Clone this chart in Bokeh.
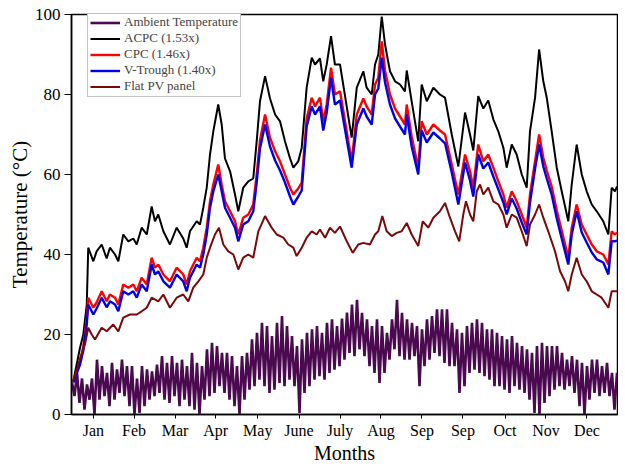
import numpy as np
from bokeh.plotting import figure
from bokeh.models import FixedTicker, Legend, LegendItem, Range1d, Title
from bokeh.embed import file_html
from bokeh.resources import INLINE

# ---- x axis (day of year) ----
month_ticks = [14.6, 41.8, 69.2, 96.4, 124.5, 152.1, 179.5, 206.9, 234.3, 261.7, 289.8, 317.2, 344.6]
month_labels = ["Jan", "Feb", "Mar", "Apr", "May", "June", "July", "Aug", "Sep", "Sep", "Oct", "Nov", "Dec"]

# ---- concentrator series (shared sampling days) ----
conc_day = [1.2, 5.7, 7.9, 10.2, 11.2, 14.6, 16.8, 20.2, 23.5, 25.7,
            29.1, 31.3, 34.6, 38.0, 41.3, 43.6, 46.9, 50.3, 53.6, 55.8,
            58.0, 61.4, 65.8, 70.3, 74.7, 77.0, 79.2, 83.7, 85.9, 88.1,
            90.4, 92.6, 94.8, 98.1, 100.4, 102.6, 106.0, 109.3, 111.5, 114.8,
            118.2, 121.5, 123.8, 126.0, 129.4, 132.7, 136.1, 139.4, 142.7, 146.1,
            148.3, 151.6, 153.9, 157.2, 160.6, 162.8, 166.1, 168.3, 170.6, 173.5,
            176.1, 179.5, 187.3, 190.7, 195.1, 197.3, 200.7, 202.9, 205.1, 207.4,
            209.6, 212.9, 216.3, 219.6, 222.9, 224.1, 227.4, 231.8, 234.1, 237.5,
            241.9, 246.3, 249.7, 254.2, 258.6, 263.1, 266.4, 268.6, 271.9, 275.3,
            278.6, 282.0, 285.3, 288.7, 290.9, 294.3, 297.6, 301.0, 304.3, 306.5,
            309.9, 312.6, 315.4, 317.7, 321.0, 324.4, 327.7, 332.1, 334.4, 337.7,
            341.1, 344.4, 347.8, 351.1, 355.5, 358.9, 361.1, 363.3, 364.7]

acpc = [8.3, 16.7, 20, 27.5, 41.7, 38.3, 40.8, 42.5, 39, 41.7,
        40, 38.3, 45, 43.3, 44, 42.5, 46.7, 45, 52, 48.3,
        50, 45.8, 42.5, 46.7, 44, 41.7, 45.8, 48.3, 47.5, 51.7,
        56.7, 65, 70.8, 77.5, 72.5, 64, 60.8, 55, 50.8, 56.7,
        58.3, 59, 68.3, 78.3, 84.6, 79, 75, 73.3, 68.3, 64,
        61.7, 63.3, 66.7, 81.7, 89.2, 87.5, 89, 83.3, 87.5, 94.6,
        87.5, 87.5, 69.2, 81.7, 85.8, 81.7, 80, 87.5, 90, 99.5,
        92.5, 85.8, 83.3, 82.5, 80.8, 86, 78.3, 68.3, 82.5, 78.3,
        81.7, 80, 79.2, 70, 62, 75.5, 70, 66, 79.6, 76.5,
        78.5, 73.8, 70.8, 66.7, 61.7, 67.5, 65, 60, 56.7, 70.8,
        79.2, 91.25, 83.3, 79.2, 70.8, 61.7, 55.8, 48.3, 57.5, 67.5,
        60, 55.8, 52.5, 50.8, 48.3, 45, 56.7, 55.8, 57]

cpc = [8.3, 13.3, 17, 24, 29.2, 26.7, 28, 30.8, 28.3, 30,
       29.2, 27.5, 32.5, 31.7, 32.5, 30.8, 34.2, 32.5, 39.2, 36.7,
       37.5, 35, 33.3, 36.7, 35, 32.5, 35.8, 39.2, 38.3, 41.7,
       46.7, 53.3, 57.5, 62.5, 57.5, 53.3, 50.8, 48.3, 45, 49.2,
       50, 52.5, 60, 68.5, 75, 69.2, 65.8, 63.3, 60, 56.7,
       55, 56.5, 58, 74, 79.2, 77, 79.2, 73.3, 77.5, 86.7,
       80, 80.8, 63.3, 75, 79, 77, 75, 82.5, 84.2, 93.3,
       86, 80, 76.5, 74.5, 72.5, 77.5, 69.5, 61.7, 73.3, 70,
       72.5, 71, 70, 62.5, 55, 65, 60.8, 56.7, 67.5, 63.3,
       65, 61.7, 58.3, 55, 51.7, 55.8, 53.3, 50, 46.7, 55,
       63.3, 70, 64.2, 61, 57, 51, 46, 39.2, 46.7, 52.5,
       47.5, 45, 42.5, 40.8, 40, 37.5, 45.8, 45, 45.5]

vtrough = [8.0, 12.5, 16, 22.5, 27.5, 25, 26.5, 29.2, 26.8, 28.3,
           27.5, 25.8, 30.8, 30, 30.8, 29.2, 32.5, 30.8, 37.5, 35,
           35.8, 33.3, 31.7, 35, 33.3, 30.8, 34.2, 37.5, 36.7, 40,
           45, 51.7, 55.8, 60, 55.8, 51.7, 49.2, 46.7, 43.3, 47.5,
           48.3, 50.8, 58, 66.5, 72.5, 67, 63.5, 61, 58, 54.5,
           52.5, 54.5, 56, 72, 77, 75, 77, 71, 75.5, 84.2,
           77.5, 78.5, 61.7, 72.5, 76.5, 74.5, 72.5, 80, 81.5, 89.2,
           83, 77.5, 74, 72, 70, 75, 67, 60, 71, 68,
           70.5, 69, 67.8, 60.5, 52.5, 63, 58.5, 54.5, 65, 61.5,
           63, 59.5, 56.3, 53, 50, 54, 51.5, 48, 45, 53,
           61.5, 67.5, 62, 59, 55, 49, 44, 37.5, 45, 50.8,
           45.5, 43, 40.5, 38.8, 38, 35, 43.3, 43.3, 43.5]

# ---- flat PV panel ----
flat_day = [1.2, 5.7, 9.0, 11.2, 13.5, 15.7, 20.2, 23.5, 27.9, 31.3,
            34.6, 39.1, 43.6, 46.9, 50.3, 53.6, 58.0, 61.4, 65.8, 70.3,
            74.7, 78.1, 81.4, 84.8, 88.1, 90.4, 92.6, 95.9, 98.6, 101.5,
            104.8, 108.2, 111.5, 114.8, 118.2, 121.5, 124.9, 129.4, 133.8, 137.2,
            141.6, 144.9, 148.3, 150.5, 153.9, 157.2, 160.6, 163.9, 166.1, 169.5,
            172.8, 176.1, 179.5, 184.0, 188.0, 191.7, 195.1, 199.5, 202.9, 205.1,
            207.8, 210.7, 214.1, 217.4, 220.7, 224.1, 227.4, 231.8, 234.8, 238.5,
            241.9, 246.3, 249.7, 253.0, 256.4, 259.2, 261.9, 263.7, 266.4, 268.6,
            270.9, 273.1, 275.3, 278.6, 282.0, 285.3, 288.7, 290.9, 294.3, 297.6,
            301.0, 304.3, 306.5, 309.9, 312.6, 315.4, 318.7, 323.2, 326.6, 329.9,
            332.1, 334.4, 337.7, 341.1, 344.4, 347.8, 351.1, 354.4, 358.9, 361.1,
            364.7]

flat_pv = [8.3, 14, 17.5, 21.7, 20, 18.75, 21.7, 20.8, 22.5, 20.8,
           24.2, 25, 25, 25.8, 26.7, 29.2, 28.3, 30, 26.7, 29.2,
           30, 28.3, 31.7, 33.3, 35, 39.2, 41.7, 45, 46.7, 42.5,
           40.8, 40, 36.25, 39.2, 40, 39.2, 45.8, 49.6, 46.7, 45,
           44.2, 42.5, 41.7, 39.6, 41.7, 44.2, 45.8, 45, 46.25, 44.2,
           46.7, 45.4, 47, 43.3, 40.4, 42.5, 42.9, 42.5, 45, 45.8,
           49.6, 45.8, 44.6, 45.4, 45.8, 47.9, 45, 42.1, 48.3, 46.7,
           49.2, 50.8, 52.9, 49.2, 45.8, 43.3, 50, 53.3, 50, 48.3,
           55.8, 57.5, 55, 56.7, 53.3, 52.5, 50, 46.7, 50, 49.2,
           45.8, 42.1, 47.5, 50, 52.5, 49.2, 45.8, 40.8, 35.8, 33.3,
           30.8, 35, 39.2, 35, 33.3, 30.8, 30, 29.2, 26.7, 30.8,
           30.8]

# ---- ambient temperature: daily highs / lows ----
amb_high = [8, 10.4, 9, 7.5, 9, 13.7, 12.1, 10.4, 12.9, 11.3,
            13.7, 12.1, 12.1, 9, 12.1, 11.3, 10.8, 12.5, 14.6, 12.9,
            14.6, 12.9, 13.7, 12.1, 15.4, 12.9, 12.1, 16.3, 17.9, 17.1,
            15.4, 15.4, 14.6, 12.1, 14.6, 15.4, 18.8, 20.4, 22.9, 22.1,
            19.6, 22.9, 24.6, 22.1, 19.6, 17.1, 18.8, 20.4, 21.3, 22.1,
            20.4, 22.9, 23.8, 22.1,
            24, 25.5, 27.5, 28.7, 25.4, 23.8, 22.1, 23.8, 22.1, 20.4,
            23.8, 28.7, 25.4, 23.8, 22.9, 22.1, 21.3, 23.8, 24.6, 26.3,
            26.3, 26.3, 22.9, 21.3, 20.4, 22.1, 22.9, 23.8, 22.9, 21.3,
            21.3, 20.4, 19.6, 18.8, 19.6, 17.9, 17.1, 16.3, 15.4, 17.1,
            17.9, 17.1, 17.1, 17.1, 15.4, 13.7, 14.6, 13.7, 12.9, 12.1,
            13.7, 13.7, 12.1, 12.9, 10.4, 10.4]

amb_low = [4.6, 2.9, 1.2, 3.7, 0, 3.7, 4.6, 2.1, 3.7, 5.4,
           4.6, 2.1, 0, 0.4, 2.1, 3.7, 4.6, 5.4, 3.7, 2.9,
           4.6, 2.1, 3.7, 2.1, 1.2, 0, 3.7, 4.6, 5.4, 7.1,
           5.4, 3.7, 2.1, 0, 3.7, 6.2, 7.1, 8.7, 7.1, 5.4,
           6.2, 7.9, 7.1, 8.7, 7.1, 0.4, 5.4, 7.1, 8.7, 9.6,
           8.7, 10.4, 11.2, 12.1,
           13.7, 15.4, 14.6, 16.3, 14.6, 12.1, 10.4, 7.9, 10.4, 13.7,
           16.3, 14.6, 13.7, 13.7, 14.6, 7.1, 12.1, 13.7, 15.4, 14.6,
           12.9, 12.1, 12.1, 5.4, 7.1, 10.4, 11.2, 10.4, 9.6, 8.7,
           7.1, 7.1, 6.2, 5.4, 7.1, 6.2, 5.4, 3.7, 0.4, 0,
           2.9, 4.6, 6.2, 7.1, 6.2, 7.1, 5.4, 2.1, 0, 3.7,
           5.4, 4.6, 5.4, 4.6, 1.2]

# time stamps of the alternating high/low samples (regular sampling in days)
step = 365.0 / 109.2
amb_x, amb_y = [], []
for i in range(max(len(amb_high), len(amb_low))):
    if i < len(amb_high):
        amb_x.append(0.33 + step * i)
        amb_y.append(amb_high[i])
    if i < len(amb_low):
        amb_x.append(0.33 + step * (i + 0.5))
        amb_y.append(amb_low[i])

SERIF = "Liberation Serif"

p = figure(frame_width=546, frame_height=400, x_range=Range1d(0, 365), y_range=Range1d(0, 100),
           output_backend="svg", toolbar_location=None,
           min_border_left=64, min_border_right=1, min_border_top=14, min_border_bottom=48)

# thin blank spacer at the far left, so the y-axis title sits a little in from the edge
p.add_layout(Title(text=" ", text_font_size="2px", standoff=0, offset=0), "left")

r_amb = p.line(amb_x, amb_y, line_color="#4B0A50", line_width=2.6)
r_acpc = p.line(conc_day, acpc, line_color="black", line_width=2)
r_cpc = p.line(conc_day, cpc, line_color="#FF0000", line_width=2.4)
r_vt = p.line(conc_day, vtrough, line_color="#0000E6", line_width=2.4)
r_flat = p.line(flat_day, flat_pv, line_color="#7A0A0A", line_width=2)

p.xgrid.visible = False
p.ygrid.visible = False
p.outline_line_color = "black"
p.outline_line_width = 1.5
p.background_fill_color = "white"

xa = p.xaxis[0]
xa.ticker = FixedTicker(ticks=month_ticks)
xa.major_label_overrides = {t: l for t, l in zip(month_ticks, month_labels)}
xa.minor_tick_line_color = None
xa.major_tick_in = 0
xa.major_tick_out = 4
xa.major_label_standoff = 3
xa.axis_label = "Months"
xa.axis_label_standoff = 0
xa.axis_label_text_font = SERIF
xa.axis_label_text_font_style = "normal"
xa.axis_label_text_font_size = "20px"
xa.axis_label_text_color = "black"
xa.major_label_text_font = SERIF
xa.major_label_text_font_size = "16px"
xa.major_label_text_color = "black"
xa.axis_line_width = 1.5

ya = p.yaxis[0]
ya.ticker = FixedTicker(ticks=[0, 20, 40, 60, 80, 100])
ya.minor_tick_line_color = None
ya.major_tick_in = 0
ya.major_tick_out = 7
ya.major_label_standoff = 4
ya.axis_label = "Temperature (°C)"
ya.axis_label_standoff = 0
ya.axis_label_text_font = SERIF
ya.axis_label_text_font_style = "normal"
ya.axis_label_text_font_size = "21px"
ya.axis_label_text_color = "black"
ya.major_label_text_font = SERIF
ya.major_label_text_font_size = "17px"
ya.major_label_text_color = "black"
ya.axis_line_width = 1.5

legend = Legend(items=[
    LegendItem(label="Ambient Temperature", renderers=[r_amb]),
    LegendItem(label="ACPC (1.53x)", renderers=[r_acpc]),
    LegendItem(label="CPC (1.46x)", renderers=[r_cpc]),
    LegendItem(label="V-Trough (1.40x)", renderers=[r_vt]),
    LegendItem(label="Flat PV panel", renderers=[r_flat]),
], location=(16, 317))
legend.border_line_color = "#8c8c8c"
legend.border_line_width = 1
legend.background_fill_color = "white"
legend.background_fill_alpha = 1
legend.label_text_font = SERIF
legend.label_text_font_size = "13px"
legend.glyph_width = 30
legend.glyph_height = 15
legend.label_height = 15
legend.label_standoff = 4
legend.spacing = 0
legend.padding = 2
legend.margin = 0
p.add_layout(legend, "center")

open("out.html", "w").write(file_html(p, INLINE))
